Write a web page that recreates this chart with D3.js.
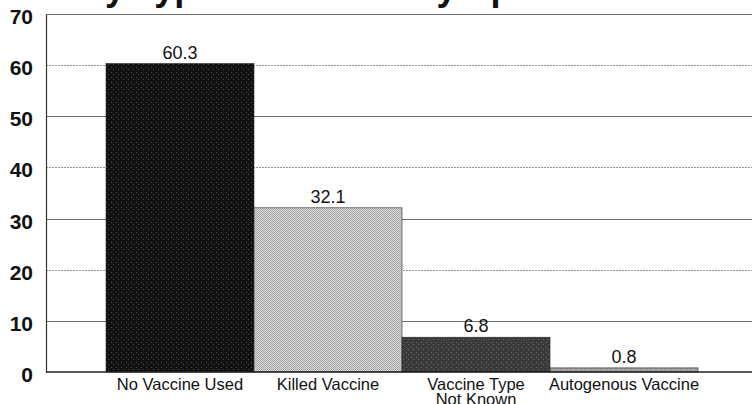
<!DOCTYPE html>
<html>
<head>
<meta charset="utf-8">
<script src="https://cdn.jsdelivr.net/npm/d3@7"></script>
<style>
  body { margin: 0; background: #fff; }
  svg { display: block; }
</style>
</head>
<body>
<div class="chart_container"></div>
<script>
// values
var categories = ["No Vaccine Used", "Killed Vaccine", "Vaccine Type\nNot Known", "Autogenous Vaccine"];
var percents = [60.3, 32.1, 6.8, 0.8];
var yTicks = [0, 10, 20, 30, 40, 50, 60, 70];
var titleText = "Vaccine Use by Type of Vaccine by Species";

var barColors = [
    { base: "#111111", speck: "#4a4a4a" },
    { base: "#dadada", speck: "#a6a6a6" },
    { base: "#3a3a3a", speck: "#6a6a6a" },
    { base: "#9c9c9c", speck: "#c4c4c4" }
];

var width = 752, height = 404;

var svg = d3.select(".chart_container").append("svg")
    .attr("width", width)
    .attr("height", height);

// scanned-looking fills
var defs = svg.append("defs");
barColors.forEach(function(c, i) {
    var p = defs.append("pattern")
        .attr("id", "fill" + i)
        .attr("patternUnits", "userSpaceOnUse")
        .attr("width", i == 1 ? 2 : 5)
        .attr("height", i == 1 ? 2 : 5);
    p.append("rect").attr("width", 5).attr("height", 5).attr("fill", c.base);
    if (i == 1) {
        p.append("rect").attr("x", 0).attr("y", 0).attr("width", 1).attr("height", 1).attr("fill", c.speck);
        p.append("rect").attr("x", 1).attr("y", 1).attr("width", 1).attr("height", 1).attr("fill", c.speck);
    } else {
        p.append("rect").attr("x", 1).attr("y", 2).attr("width", 1).attr("height", 1).attr("fill", c.speck);
        p.append("rect").attr("x", 3).attr("y", 4).attr("width", 1).attr("height", 1).attr("fill", c.speck);
    }
});

var axisLeftX = 46;

var y = d3.scaleLinear()
    .domain([0, 70])
    .range([372, 14]);

var x = d3.scaleBand()
    .domain(categories)
    .range([106, 698])
    .padding(0);

// title, mostly cut off by the top edge
var title = svg.append("text")
    .attr("y", 0)
    .style("font-family", "'Liberation Sans', Arial, sans-serif")
    .style("font-weight", "bold")
    .style("font-size", "36px")
    .attr("fill", "#111")
    .text(titleText);
var probe = svg.append("text")
    .style("font-family", "'Liberation Sans', Arial, sans-serif")
    .style("font-weight", "bold")
    .style("font-size", "36px")
    .text("Vaccine Use ");
var prefixW = probe.node().getComputedTextLength();
probe.remove();
title.attr("x", 73 - prefixW);

// gridlines
svg.append("g")
    .attr("class", "grid")
    .selectAll("line")
    .data(yTicks.filter(function(d) { return d > 0; }))
    .enter().append("line")
        .attr("x1", axisLeftX)
        .attr("x2", width)
        .attr("y1", function(d) { return Math.round(y(d)) + 0.5; })
        .attr("y2", function(d) { return Math.round(y(d)) + 0.5; })
        .attr("stroke", function(d) { return (d / 10) % 2 == 1 || d == 70 ? "#707070" : "#959595"; })
        .attr("stroke-width", 1)
        .attr("stroke-dasharray", function(d) { return (d / 10) % 2 == 0 && d != 70 ? "2,1" : null; });

// bars
svg.append("g")
    .selectAll("rect")
    .data(percents)
    .enter().append("rect")
        .attr("x", function(d, i) { return x(categories[i]); })
        .attr("y", function(d) { return y(d); })
        .attr("width", x.bandwidth())
        .attr("height", function(d) { return y(0) - y(d); })
        .attr("fill", function(d, i) { return "url(#fill" + i + ")"; })
        .attr("stroke", "#222")
        .attr("stroke-width", 0.6);

// value labels
svg.append("g")
    .selectAll("text")
    .data(percents)
    .enter().append("text")
        .attr("x", function(d, i) { return x(categories[i]) + x.bandwidth() / 2; })
        .attr("y", function(d) { return y(d) - 5; })
        .attr("text-anchor", "middle")
        .style("font-family", "'Liberation Sans', Arial, sans-serif")
        .style("font-size", "18px")
        .attr("fill", "#111")
        .text(function(d) { return d.toFixed(1); });

// left axis
var yAxis = d3.axisLeft(y)
    .tickValues(yTicks)
    .tickSize(0)
    .tickPadding(13);
var gy = svg.append("g")
    .attr("transform", "translate(" + axisLeftX + ",0)")
    .call(yAxis);
gy.select(".domain").attr("stroke", "#333").attr("stroke-width", 1.2);
gy.selectAll("text")
    .attr("dy", "0.45em")
    .style("font-family", "'Liberation Sans', Arial, sans-serif")
    .style("font-weight", "bold")
    .style("font-size", "21px")
    .attr("fill", "#111");

// baseline
svg.append("line")
    .attr("x1", axisLeftX)
    .attr("x2", width)
    .attr("y1", y(0))
    .attr("y2", y(0))
    .attr("stroke", "#222")
    .attr("stroke-width", 1.6);

// category labels
var catLabels = svg.append("g")
    .selectAll("text")
    .data(categories)
    .enter().append("text")
        .attr("x", function(d) { return x(d) + x.bandwidth() / 2; })
        .attr("y", 390)
        .attr("text-anchor", "middle")
        .style("font-family", "'Liberation Sans', Arial, sans-serif")
        .style("font-size", "16.5px")
        .attr("fill", "#111");
catLabels.each(function(d) {
    var lines = d.split("\n");
    var t = d3.select(this);
    lines.forEach(function(l, k) {
        t.append("tspan")
            .attr("x", t.attr("x"))
            .attr("dy", k == 0 ? 0 : 15)
            .text(l);
    });
});
</script>
</body>
</html>
